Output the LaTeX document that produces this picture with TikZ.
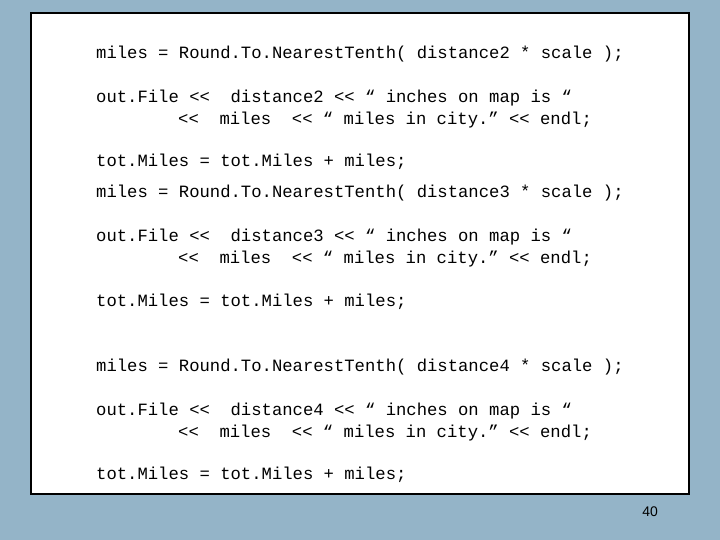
\documentclass[tikz,border=0pt]{standalone}
\usepackage{fontspec}
\setmainfont{Liberation Sans}
\setmonofont{Liberation Mono}
\definecolor{bg}{RGB}{148,180,200}
\begin{document}
\begin{tikzpicture}[x=1bp,y=-1bp,
  code/.style={anchor=base west,inner sep=0pt,font=\ttfamily\fontsize{17.3}{20}\selectfont},
  pnum/.style={anchor=base,inner sep=0pt,font=\fontsize{14}{16}\selectfont}]
\fill[bg] (0,0) rectangle (720,540);
\draw[fill=white,line width=1.5bp] (31,13) rectangle (689,494);
\newcommand\blockat[2]{%
\node[code] (m#1) at (96,#2) {miles = Round.To.NearestTenth( distance#1 * scale );};
\node[code] (o#1) at (96,#2+44) {out.File <<\ \ distance#1 << “ inches on map is “};
\node[code] (p#1) at (178,#2+66) {<<\ \ miles\ \ << “ miles in city.” << endl;};}
\blockat{2}{59}
\node[code] (t2) at (96,167) {tot.Miles = tot.Miles + miles;};
\blockat{3}{198}
\node[code] (t3) at (96,306) {tot.Miles = tot.Miles + miles;};
\blockat{4}{371}
\node[code] (t4) at (96,479) {tot.Miles = tot.Miles + miles;};
\node[pnum] (pg) at (650,516) {40};
\end{tikzpicture}
\end{document}
